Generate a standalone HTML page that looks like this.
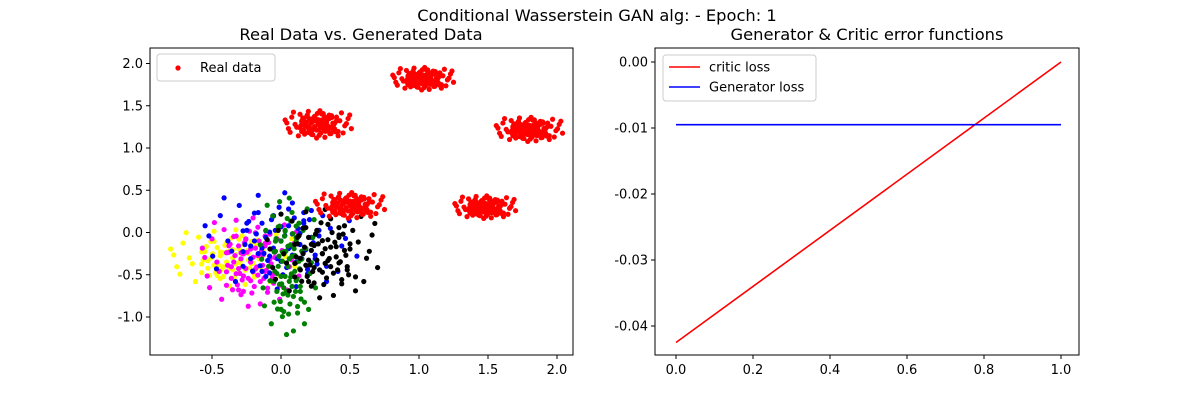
<!DOCTYPE html>
<html><head><meta charset="utf-8"><style>
body{margin:0;background:#fff}
svg{display:block;font-family:"DejaVu Sans","Liberation Sans",sans-serif}
</style></head><body>
<svg id="fig" width="1200" height="400" viewBox="0 0 1200 400">
<rect width="1200" height="400" fill="#fff"/>
<text x="597" y="21" text-anchor="middle" font-size="16.3">Conditional Wasserstein GAN alg: - Epoch: 1</text>
<text x="361" y="40" text-anchor="middle" font-size="16.3">Real Data vs. Generated Data</text>
<text x="867" y="40" text-anchor="middle" font-size="16.3">Generator &amp; Critic error functions</text>
<g id="left"></g>
<g id="right"></g>
</svg>
<script>
// ---- data ----
const offsets=[[0.1,0.3],[-0.5,0.2],[0.8,-0.1],[-0.2,-0.7],[0.4,0.6],[-0.9,-0.3],[0.6,-0.5],[0.0,0.0],[-0.3,0.9],[0.9,0.4],[-0.6,-0.8],[0.3,-0.2],[-0.1,0.5],[0.7,0.8],[-0.8,0.5],[0.2,-0.9],[-0.4,-0.1],[0.5,0.1],[-0.7,0.0],[1.0,-0.3],[0.0,-0.4],[-0.2,0.2],[0.3,0.4],[-1.0,0.3],[0.6,-0.8],[-0.5,-0.5],[0.15,0.75],[-0.35,0.55],[0.85,0.05],[-0.65,-0.2],[0.45,-0.35],[-0.05,-0.95],[0.25,0.15],[-0.45,0.35],[0.75,-0.6],[-0.15,-0.3],[0.55,0.5],[-0.85,-0.55],[0.05,0.95],[-0.25,-0.6],[0.35,-0.65],[-0.55,0.7],[0.95,0.65],[-0.95,0.1],[0.1,-0.15],[-0.3,-0.25],[0.65,0.25],[-0.75,0.85]];
const realCenters=[[0.27,1.28],[1.03,1.82],[1.8,1.22],[0.5,0.32],[1.48,0.3]];
const realSpread=[[0.24,0.17],[0.22,0.14],[0.24,0.15],[0.25,0.16],[0.22,0.14]];
const genColors=["yellow","magenta","blue","green","black"];
const genCenters=[[-0.35,-0.3],[-0.22,-0.35],[0.0,-0.1],[0.05,-0.4],[0.3,-0.25]];
const genSpread=[[0.45,0.35],[0.35,0.55],[0.55,0.6],[0.2,0.85],[0.4,0.55]];
const leftXTicks=[-0.5,0.0,0.5,1.0,1.5,2.0];
const leftYTicks=[-1.0,-0.5,0.0,0.5,1.0,1.5,2.0];
const lossX=[0,1];
const criticLoss=[-0.0425,0.0];
const generatorLoss=[-0.0095,-0.0095];
const rightXTicks=[0.0,0.2,0.4,0.6,0.8,1.0];
const rightYTicks=[0.0,-0.01,-0.02,-0.03,-0.04];

const NS="http://www.w3.org/2000/svg";
function mk(p,t,a){const e=document.createElementNS(NS,t);for(const k in a)e.setAttribute(k,a[k]);p.appendChild(e);return e;}
const lx=v=>281+138*v, ly=v=>232.5-84.5*v;
const rx=v=>676+385*v, ry=v=>62-6600*v;

function axes(g,x0,y0,x1,y1,xt,yt,fx,fy,fmtx,fmty,pre){
  for(const t of xt){const x=fx(t);
    const l=mk(g,"line",{x1:x,x2:x,y1:y1,y2:y1+4,stroke:"#000"});
    
    
    const s=mk(g,"text",{x:x,y:y1+19,"text-anchor":"middle","font-size":"13"});s.textContent=fmtx(t);
    
    }
  for(const t of yt){const y=fy(t);
    const l=mk(g,"line",{x1:x0-4,x2:x0,y1:y,y2:y,stroke:"#000"});
    
    
    const s=mk(g,"text",{x:x0-7,y:y+4.5,"text-anchor":"end","font-size":"13"});s.textContent=fmty(t);
    
    }
  const r=mk(g,"rect",{x:x0,y:y0,width:x1-x0,height:y1-y0,fill:"none",stroke:"#000"});
  
  
}
const L=document.getElementById("left");
const R=document.getElementById("right");
// generated points
genCenters.forEach((c,i)=>{offsets.forEach(o=>{
  [1,0.5].forEach(k=>{
  const p=mk(L,"circle",{cx:lx(c[0]+o[0]*genSpread[i][0]*k),cy:ly(c[1]+o[1]*genSpread[i][1]*(k===1?1:-0.7)),r:2.6,fill:genColors[i]});
  
  
  });
});});
// real points
realCenters.forEach((c,i)=>{offsets.forEach((o,j)=>{
  [1,0.55].forEach(k=>{
  const p=mk(L,"circle",{cx:lx(c[0]+o[0]*realSpread[i][0]*k),cy:ly(c[1]+o[1]*realSpread[i][1]*(k===1?1:-0.8)),r:2.6,fill:"red"});
  
  
  });
});});
axes(L,150,48,573,355,leftXTicks,leftYTicks,lx,ly,t=>t.toFixed(1),t=>t.toFixed(1),'left-');
// left legend
const lg=mk(L,"g",{});


mk(lg,"rect",{x:157,y:54,width:118,height:27,rx:3,fill:"#fff",stroke:"#ccc"});
const ld=mk(lg,"circle",{cx:178,cy:68,r:2.6,fill:"red"});


const lt=mk(lg,"text",{x:200,y:72,"font-size":"13"});lt.textContent="Real data";


// right
axes(R,655,48,1079,355,rightXTicks,rightYTicks,rx,ry,t=>t.toFixed(1),t=>t.toFixed(2),'right-');
const c1=mk(R,"polyline",{points:lossX.map((x,i)=>rx(x)+","+ry(criticLoss[i])).join(" "),fill:"none",stroke:"red","stroke-width":1.6});


const c2=mk(R,"polyline",{points:lossX.map((x,i)=>rx(x)+","+ry(generatorLoss[i])).join(" "),fill:"none",stroke:"blue","stroke-width":1.6});


const rg=mk(R,"g",{});


mk(rg,"rect",{x:663,y:55,width:153,height:46,rx:3,fill:"#fff",stroke:"#ccc"});
[["red","critic loss",67],["blue","Generator loss",87]].forEach(e=>{
  const l=mk(rg,"line",{x1:669,x2:700,y1:e[2],y2:e[2],stroke:e[0],"stroke-width":1.6});
  
  
  const t=mk(rg,"text",{x:709,y:e[2]+4.5,"font-size":"13"});t.textContent=e[1];
  
  
});
</script>
</body></html>
